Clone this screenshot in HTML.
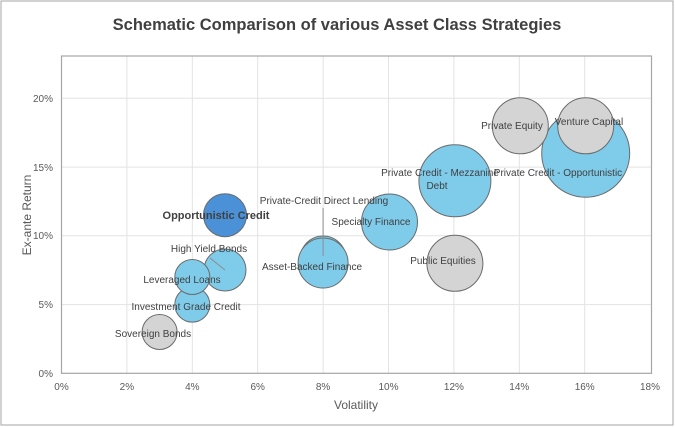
<!DOCTYPE html>
<html><head><meta charset="utf-8"><style>
body{margin:0;background:#fff;}
svg{display:block;font-family:"Liberation Sans",Arial,sans-serif;}
</style></head><body>
<svg width="675" height="427" viewBox="0 0 675 427">
<rect x="1" y="1" width="672" height="424" fill="#fff" stroke="#a6a6a6" stroke-width="1"/>
<text x="337" y="30" text-anchor="middle" font-size="16.5" font-weight="bold" fill="#404040">Schematic Comparison of various Asset Class Strategies</text>
<g stroke="#e3e3e3" stroke-width="1">
<line x1="61.5" y1="304.6" x2="651" y2="304.6"/>
<line x1="61.5" y1="235.8" x2="651" y2="235.8"/>
<line x1="61.5" y1="167.1" x2="651" y2="167.1"/>
<line x1="61.5" y1="98.3" x2="651" y2="98.3"/>
<line x1="126.9" y1="56" x2="126.9" y2="373.3"/>
<line x1="192.3" y1="56" x2="192.3" y2="373.3"/>
<line x1="257.7" y1="56" x2="257.7" y2="373.3"/>
<line x1="323.1" y1="56" x2="323.1" y2="373.3"/>
<line x1="388.5" y1="56" x2="388.5" y2="373.3"/>
<line x1="453.9" y1="56" x2="453.9" y2="373.3"/>
<line x1="519.3" y1="56" x2="519.3" y2="373.3"/>
<line x1="584.7" y1="56" x2="584.7" y2="373.3"/>
</g>
<rect x="61.5" y="56" width="590" height="317.3" fill="none" stroke="#a6a6a6" stroke-width="1.2"/>
<g font-size="10" fill="#595959" text-anchor="end">
<text x="53" y="377">0%</text><text x="53" y="308">5%</text><text x="53" y="239">10%</text><text x="53" y="171">15%</text><text x="53" y="102">20%</text>
</g>
<g font-size="10" fill="#595959" text-anchor="middle">
<text x="61.5" y="390">0%</text><text x="126.9" y="390">2%</text><text x="192.3" y="390">4%</text><text x="257.7" y="390">6%</text><text x="323.1" y="390">8%</text><text x="388.5" y="390">10%</text><text x="453.9" y="390">12%</text><text x="519.3" y="390">14%</text><text x="584.7" y="390">16%</text><text x="650" y="390">18%</text>
</g>
<text x="356" y="409" font-size="12" fill="#595959" text-anchor="middle">Volatility</text>
<text transform="translate(31,215) rotate(-90)" font-size="12" fill="#595959" text-anchor="middle">Ex-ante Return</text>
<g stroke="#6b6b6b" stroke-width="1">
<circle cx="585.7" cy="153.3" r="44" fill="#7fcbea"/>
<circle cx="520.3" cy="125.8" r="28" fill="#d4d4d4"/>
<circle cx="585.7" cy="125.8" r="28" fill="#d4d4d4"/>
<circle cx="454.9" cy="180.8" r="36" fill="#7fcbea"/>
<circle cx="454.9" cy="263.3" r="28" fill="#d4d4d4"/>
<circle cx="389.5" cy="222" r="28" fill="#7fcbea"/>
<circle cx="323.1" cy="259" r="23" fill="#7fcbea"/>
<circle cx="323.1" cy="263" r="25" fill="#7fcbea"/>
<circle cx="225" cy="270" r="21" fill="#7fcbea"/>
<circle cx="225" cy="215.2" r="21.5" fill="#4a91d8"/>
<circle cx="192.3" cy="304.6" r="17.5" fill="#7fcbea"/>
<circle cx="192.3" cy="277" r="17.5" fill="#7fcbea"/>
<circle cx="159.6" cy="332" r="17.5" fill="#d4d4d4"/>
</g>
<g stroke="#8c8c8c" stroke-width="1">
<line x1="323.1" y1="208" x2="323.1" y2="256"/>
<line x1="210" y1="258" x2="225" y2="270"/>
</g>
<g font-size="10" fill="#404040" text-anchor="middle">
<text x="153" y="337">Sovereign Bonds</text>
<text x="186" y="310">Investment Grade Credit</text>
<text x="182" y="283">Leveraged Loans</text>
<text x="209" y="252">High Yield Bonds</text>
<text x="216" y="219" font-size="11" font-weight="bold">Opportunistic Credit</text>
<text x="324" y="204">Private-Credit Direct Lending</text>
<text x="312" y="270">Asset-Backed Finance</text>
<text x="371" y="225">Specialty Finance</text>
<text x="440" y="176">Private Credit - Mezzanine</text>
<text x="437" y="189">Debt</text>
<text x="443" y="264">Public Equities</text>
<text x="512" y="129">Private Equity</text>
<text x="589" y="125">Venture Capital</text>
<text x="558" y="176">Private Credit - Opportunistic</text>
</g>
</svg>
</body></html>
